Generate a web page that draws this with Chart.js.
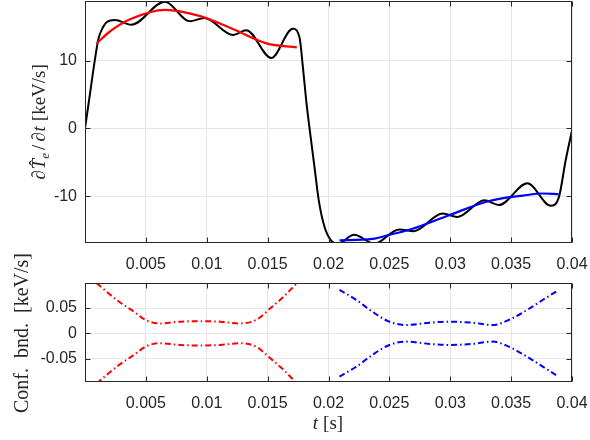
<!DOCTYPE html>
<html>
<head>
<meta charset="utf-8">
<script src="https://cdn.jsdelivr.net/npm/chart.js@4.4.0/dist/chart.umd.min.js"></script>
<style>
  html, body { margin: 0; padding: 0; background: #fff; }
  #wrap { position: relative; width: 590px; height: 440px; }
  #wrap canvas { position: absolute; left: 0; }
  #top { top: 0; }
  #bot { top: 240px; }
</style>
</head>
<body>
<div id="wrap">
  <canvas id="top" width="590" height="280"></canvas>
  <canvas id="bot" width="590" height="200"></canvas>
</div>
<script>
// time axis shared by both panels
const xTicks = [0.005, 0.01, 0.015, 0.02, 0.025, 0.03, 0.035, 0.04];
const xTickLabels = ['0.005', '0.01', '0.015', '0.02', '0.025', '0.03', '0.035', '0.04'];

// upper panel: rate of change and the two fits
const rateT = [0, 0.0004, 0.0008, 0.0011, 0.0015, 0.0018, 0.00246, 0.0038, 0.00656, 0.0086, 0.0098,
  0.01216, 0.01325, 0.0153, 0.01707, 0.01762, 0.0179, 0.01817, 0.0185, 0.01885, 0.0192, 0.01967,
  0.0202, 0.02077, 0.0221, 0.02377, 0.0258, 0.027, 0.02937, 0.0306, 0.0328, 0.034, 0.03634,
  0.03825, 0.03893, 0.03948, 0.04];
const rateV = [0, 5.0, 10.0, 13.2, 15.0, 15.7, 16.0, 15.3, 18.7, 15.8, 16.3,
  13.8, 14.5, 10.4, 14.7, 13.4, 9.0, 4.1, -0.8, -5.7, -10.6, -14.5,
  -16.5, -17.0, -15.7, -17.0, -14.9, -15.15, -12.55, -13.05, -10.6, -11.3, -8.1,
  -11.4, -10.1, -4.7, -0.3];

const fitRedT = [0.00096, 0.00205, 0.0037, 0.0066, 0.0094, 0.0121, 0.0149, 0.0174];
const fitRedV = [12.55, 14.3, 16.1, 17.5, 16.6, 14.7, 12.55, 11.96];
const fitBlueT = [0.0209, 0.0236, 0.025, 0.0269, 0.0299, 0.0332, 0.036, 0.0376, 0.0389];
const fitBlueV = [-16.5, -16.3, -15.7, -14.8, -12.8, -10.7, -9.9, -9.6, -9.7];

const yTicksTop = [-10, 0, 10];
const yTickLabelsTop = ['-10', '0', '10'];

// lower panel: confidence bounds of each fit
const bndRedT = [0.00096, 0.0026, 0.004, 0.005, 0.0061, 0.0078, 0.0094, 0.0111, 0.0127, 0.0141, 0.0152, 0.0163, 0.0174];
const bndRedUp = [0.099, 0.066, 0.043, 0.026, 0.0195, 0.023, 0.024, 0.023, 0.0195, 0.027, 0.049, 0.072, 0.099];
const bndRedLo = [-0.099, -0.066, -0.043, -0.026, -0.0195, -0.023, -0.024, -0.023, -0.0195, -0.027, -0.049, -0.072, -0.099];
const bndBlueT = [0.0209, 0.0223, 0.0236, 0.025, 0.0264, 0.0283, 0.0299, 0.0318, 0.0335, 0.0348, 0.0365, 0.0378, 0.0389];
const bndBlueUp = [0.0856, 0.0658, 0.0427, 0.023, 0.0164, 0.021, 0.023, 0.021, 0.0164, 0.0263, 0.049, 0.069, 0.0856];
const bndBlueLo = [-0.0856, -0.0658, -0.0427, -0.023, -0.0164, -0.021, -0.023, -0.021, -0.0164, -0.0263, -0.049, -0.069, -0.0856];

const yTicksBot = [-0.05, 0, 0.05];
const yTickLabelsBot = ['-0.05', '0', '0.05'];

const ink = '#262626';
const tickFont = { family: '"Liberation Sans", Arial, sans-serif', size: 16 };
const serif = '"Liberation Serif", "Times New Roman", serif';

const pts = (xs, ys) => xs.map((x, i) => ({ x: x, y: ys[i] }));

// box round the plot area with short inward ticks on all four sides
const framePlugin = {
  id: 'frame',
  afterDatasetsDraw(chart) {
    const { ctx, chartArea: a, scales } = chart;
    const L = Math.round(a.left) + 0.5, R = Math.round(a.right) - 0.5;
    const T = Math.round(a.top) + 0.5, B = Math.round(a.bottom) - 0.5;
    ctx.save();
    ctx.strokeStyle = ink;
    ctx.lineWidth = 1;
    ctx.beginPath();
    scales.x.ticks.forEach(t => {
      const px = Math.round(scales.x.getPixelForValue(t.value)) + 0.5;
      ctx.moveTo(px, B); ctx.lineTo(px, B - 5);
      ctx.moveTo(px, T); ctx.lineTo(px, T + 5);
    });
    scales.y.ticks.forEach(t => {
      const py = Math.round(scales.y.getPixelForValue(t.value)) + 0.5;
      ctx.moveTo(L, py); ctx.lineTo(L + 5, py);
      ctx.moveTo(R, py); ctx.lineTo(R - 5, py);
    });
    ctx.stroke();
    ctx.strokeRect(L, T, R - L, B - T);
    ctx.restore();
  }
};

// axis titles made of pieces with their own font and baseline shift
const labelPlugin = {
  id: 'richLabels',
  afterDraw(chart, args, opts) {
    const ctx = chart.ctx;
    (opts.items || []).forEach(item => {
      ctx.save();
      ctx.fillStyle = ink;
      ctx.textBaseline = 'alphabetic';
      ctx.translate(item.x, item.y);
      if (item.rotate) ctx.rotate(item.rotate);
      let w = 0;
      item.pieces.forEach(p => { ctx.font = p.f; w += ctx.measureText(p.t).width + (p.g || 0); });
      let cx = -w / 2;
      item.pieces.forEach(p => {
        ctx.font = p.f;
        ctx.fillText(p.t, cx, p.dy || 0);
        cx += ctx.measureText(p.t).width + (p.g || 0);
      });
      ctx.restore();
    });
  }
};

function xAxis(height) {
  return {
    type: 'linear', min: 0, max: 0.04,
    afterBuildTicks: s => { s.ticks = xTicks.map(v => ({ value: v })); },
    afterFit: s => { s.height = height; s.paddingLeft = 0; s.paddingRight = 0; },
    ticks: {
      autoSkip: false, maxRotation: 0, padding: 11.5, color: ink, font: tickFont,
      callback: (v, i) => xTickLabels[i]
    },
    grid: { color: '#e6e6e6', drawTicks: false },
    border: { display: false }
  };
}

function yAxis(min, max, ticks, labels) {
  return {
    type: 'linear', min: min, max: max,
    afterBuildTicks: s => { s.ticks = ticks.map(v => ({ value: v })); },
    afterFit: s => { s.width = 85; s.paddingTop = 0; s.paddingBottom = 0; },
    ticks: {
      autoSkip: false, padding: 8, color: ink, font: tickFont,
      callback: (v, i) => labels[i]
    },
    grid: { color: '#e6e6e6', drawTicks: false },
    border: { display: false }
  };
}

const common = {
  responsive: false,
  animation: false,
  events: [],
  elements: { point: { radius: 0 } },
  plugins: { legend: { display: false }, tooltip: { enabled: false } }
};

new Chart(document.getElementById('top'), {
  type: 'line',
  data: {
    datasets: [
      { data: pts(fitRedT, fitRedV), borderColor: '#ff0000', borderWidth: 2.2, cubicInterpolationMode: 'monotone', order: 1 },
      { data: pts(fitBlueT, fitBlueV), borderColor: '#0000ff', borderWidth: 2.2, cubicInterpolationMode: 'monotone', order: 1 },
      { data: pts(rateT, rateV), borderColor: '#000000', borderWidth: 2, cubicInterpolationMode: 'monotone', order: 2 }
    ]
  },
  options: Object.assign({}, common, {
    layout: { padding: { top: 1, right: 18, left: 0, bottom: 0 } },
    scales: { x: xAxis(37), y: yAxis(-16.9, 18.8, yTicksTop, yTickLabelsTop) },
    plugins: Object.assign({}, common.plugins, {
      richLabels: {
        items: [{
          x: 45, y: 122, rotate: -Math.PI / 2,
          pieces: [
            { t: '\u2202', f: 'italic 19px ' + serif, g: 1 },
            { t: 'T\u0302', f: 'italic 19px ' + serif },
            { t: 'e', f: 'italic 13px ' + serif, dy: 4, g: 3 },
            { t: '/', f: '19px ' + serif, g: 3 },
            { t: '\u2202', f: 'italic 19px ' + serif, g: 1 },
            { t: 't', f: 'italic 19px ' + serif, g: 5 },
            { t: '[keV/s]', f: '19px ' + serif }
          ]
        }]
      }
    })
  }),
  plugins: [framePlugin, labelPlugin]
});

const dashDot = [6, 3, 1.5, 3];
new Chart(document.getElementById('bot'), {
  type: 'line',
  data: {
    datasets: [
      { data: pts(bndRedT, bndRedUp), borderColor: '#ff0000', borderWidth: 2, borderDash: dashDot, cubicInterpolationMode: 'monotone' },
      { data: pts(bndRedT, bndRedLo), borderColor: '#ff0000', borderWidth: 2, borderDash: dashDot, cubicInterpolationMode: 'monotone' },
      { data: pts(bndBlueT, bndBlueUp), borderColor: '#0000ff', borderWidth: 2, borderDash: dashDot, cubicInterpolationMode: 'monotone' },
      { data: pts(bndBlueT, bndBlueLo), borderColor: '#0000ff', borderWidth: 2, borderDash: dashDot, cubicInterpolationMode: 'monotone' }
    ]
  },
  options: Object.assign({}, common, {
    layout: { padding: { top: 43, right: 18, left: 0, bottom: 0 } },
    scales: { x: xAxis(58), y: yAxis(-0.0962, 0.0994, yTicksBot, yTickLabelsBot) },
    plugins: Object.assign({}, common.plugins, {
      richLabels: {
        items: [
          {
            x: 28, y: 93, rotate: -Math.PI / 2,
            pieces: [
              { t: 'Conf.', f: '20px ' + serif, g: 10 },
              { t: 'bnd.', f: '20px ' + serif, g: 10 },
              { t: '[keV/s]', f: '20px ' + serif }
            ]
          },
          {
            x: 328, y: 189,
            pieces: [
              { t: 't', f: 'italic 19px ' + serif, g: 5 },
              { t: '[s]', f: '19px ' + serif }
            ]
          }
        ]
      }
    })
  }),
  plugins: [framePlugin, labelPlugin]
});
</script>
</body>
</html>
